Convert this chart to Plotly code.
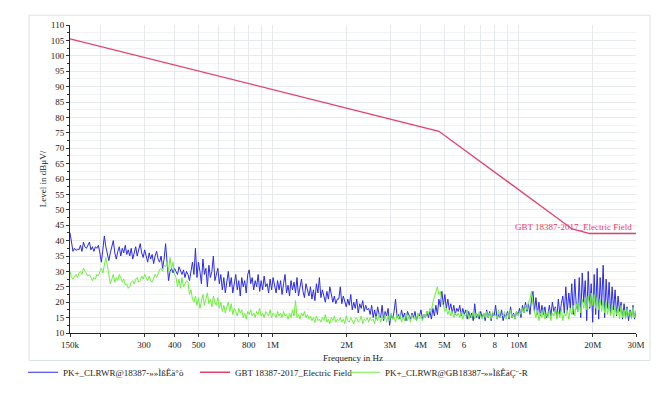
import numpy as np
import plotly.graph_objects as go

# ---- data -------------------------------------------------------------
# receiver sweep: log-spaced from 150 kHz to 30 MHz (one level per step)
SWEEP_START_HZ = 150e3
SWEEP_STOP_HZ = 30e6

blue_levels = [
    42.5, 40, 36.5, 37.5, 36.8, 37.2, 37, 38.5, 36.5, 39.5, 38, 37.5, 38.5, 39.5, 37, 38, 36.5, 38, 37.5, 38.5,
    36, 33, 37, 41.5, 38, 35, 33.5, 36, 38, 40, 36, 34, 36.5, 38, 35, 37.5, 36, 38.5, 35.5, 37,
    35, 37.5, 34, 36, 38, 35, 37, 39, 36, 34.5, 37, 35, 33, 36, 34, 35.5, 32.5, 35, 36.5, 34,
    33, 35, 31, 34, 39, 33, 27, 30, 31, 29.5, 31, 30, 29, 31.5, 30, 29, 30.5, 28, 30, 29,
    27, 31, 33, 29, 37.5, 28, 33, 30, 26, 34, 29, 31, 25, 32, 28, 30, 35, 27, 29, 31,
    26, 29, 24, 28, 23, 27, 30, 25, 28, 23, 26, 29, 24, 27, 22, 28, 25, 27, 23, 29,
    30.5, 26, 28, 24, 27, 25, 29, 23.5, 27, 24, 28.5, 25, 26, 23, 27.5, 24, 28, 25.5, 23, 27,
    24, 27, 22.5, 26, 29, 23, 25.5, 22, 27, 24, 26.5, 23, 28, 22, 25, 27.5, 23.5, 21.5, 26, 24,
    22, 25, 21, 24, 20.5, 26, 23, 28, 21.5, 24, 22, 20, 23.5, 21, 25, 22.5, 20, 22, 19.5, 21,
    21, 25, 19.5, 22, 20, 18.5, 21, 19, 22.5, 17.5, 20, 18, 21, 16.5, 19.5, 18, 20.5, 17, 19, 17.5,
    18, 16, 19, 15, 17.5, 14.5, 18.5, 16, 15, 19, 14, 17, 15.5, 18, 12.5, 16, 14.5, 17, 21, 15,
    16, 14.5, 17.5, 15, 16.5, 14, 17, 15.5, 14.5, 16.5, 15, 17, 14, 16, 15.5, 17.5, 14.5, 16, 15, 17,
    15, 17, 14.5, 18, 15.5, 19, 16, 21, 18.5, 23.5, 19, 22.5, 18, 21, 17.5, 19.5, 16.5, 19, 16, 18,
    17, 19, 15.5, 18, 16, 17.5, 14.5, 17, 15, 16.5, 14, 19.5, 15, 16, 14.5, 17, 15, 16.5, 14, 17.5,
    15, 17, 14, 16.5, 15.5, 19, 14.5, 16, 15, 17.5, 14, 16, 15.5, 17, 14.5, 18.5, 15, 16.5, 14.5, 17,
    16, 18, 15, 19, 16.5, 20, 17, 19.5, 16, 21, 23.5, 17, 21.5, 16, 20, 15.5, 19, 16, 18.5, 15,
    16, 19, 15.5, 20, 17, 18.5, 15, 21, 16, 19.5, 22, 16.5, 25, 17, 23, 18, 26, 16, 27.5, 19,
    17, 28, 15, 29.5, 20, 27, 14, 30, 18, 26, 13.5, 29, 16, 31, 14.5, 28, 19, 32, 15, 27.5,
    18, 26.5, 16, 25, 17.5, 24, 15.5, 22, 17, 20, 14.5, 19.5, 15, 18.5, 14, 17.5, 15, 19, 14.5, 17,
]

green_levels = [
    30, 28, 27.5, 28.5, 29, 28, 29.5, 30, 29, 31, 30, 29, 28.5, 29, 28, 27, 28, 27.5, 29, 28.5,
    30, 31, 29.5, 31.5, 34.5, 32, 29, 26, 27.5, 29, 26.5, 28, 27, 29, 28, 26.5, 27.5, 25.5, 26, 24.5,
    25, 26.5, 27, 26, 27.5, 28, 26.5, 27, 28.5, 27.5, 29, 28, 27, 28.5, 27, 26.5, 28, 29, 28, 29.5,
    30.5, 31, 30, 32, 31.5, 33, 30, 34.5, 31, 33, 29, 28, 25, 27.5, 24.5, 28, 25, 26, 27, 26.5,
    22.5, 24, 21, 20, 22, 19, 21.5, 18, 20, 22.5, 19, 21, 23, 19.5, 21, 18.5, 22, 20, 19, 21.5,
    18, 20, 17, 19, 16.5, 18.5, 20, 17, 19.5, 16, 18, 17, 15.5, 18, 16.5, 17.5, 15, 16.5, 14.5, 17,
    16, 17.5, 15.5, 16.5, 15, 17, 16, 18, 15.5, 16.5, 15, 17, 16, 15.5, 17.5, 15, 16.5, 16, 15, 17,
    15.5, 16.5, 15, 17, 15.5, 16, 14.5, 16.5, 15, 17.5, 15.5, 20.5, 15, 16, 14.5, 16.5, 15.5, 17, 15, 16,
    14.5, 15.5, 14, 15, 13.5, 15.5, 14, 14.5, 13.5, 15, 14, 16, 13.5, 14.5, 13, 15, 14, 15.5, 13.5, 14.5,
    14, 15, 13.5, 14.5, 13, 15.5, 14, 13.5, 15, 14, 13, 14.5, 15, 13.5, 14, 15.5, 13, 14.5, 14, 15,
    13.5, 15, 14, 14.5, 13, 15.5, 14, 16, 13.5, 15, 14.5, 16, 13.5, 15.5, 14, 16.5, 14.5, 15, 13.5, 16,
    14.5, 16, 13.5, 15, 14, 16.5, 14, 15.5, 13.5, 16, 14.5, 15, 14, 16.5, 14.5, 15.5, 14, 16, 15, 17,
    16, 18, 17, 20, 21.5, 23, 25, 22.5, 23.5, 20, 19, 17, 18, 16, 17.5, 15.5, 17, 15, 16.5, 15.5,
    16.5, 15, 17, 14.5, 16, 15.5, 17.5, 14.5, 16, 15, 17, 14.5, 16.5, 15, 17, 15.5, 14.5, 16.5, 15, 17,
    15, 16.5, 14.5, 17, 15.5, 16, 14.5, 17.5, 15, 16, 15.5, 17, 14.5, 16.5, 15, 17.5, 15, 16, 14.5, 17,
    15.5, 17, 16, 18, 16.5, 19, 17.5, 20, 21, 23.5, 19, 17, 15, 17.5, 14, 16.5, 15, 18, 14.5, 16,
    15, 17.5, 14, 16.5, 15.5, 18, 14.5, 17, 15, 18, 14, 16.5, 15.5, 17.5, 14.5, 18, 16, 19, 15.5, 19.5,
    17, 20, 16.5, 21, 18, 21.5, 17.5, 22, 18.5, 23, 19, 22.5, 18, 21.5, 17.5, 21, 17, 20.5, 16.5, 20,
    16, 19.5, 15.5, 19, 15, 18.5, 16, 18, 14.5, 19, 15, 17.5, 14.5, 18, 15.5, 17, 14.5, 18.5, 15, 17.5,
]

limit_freq_hz = [150e3, 4.74e6, 16.5e6, 19.5e6, 30e6]
limit_level = [105.5, 75.5, 43.8, 42.3, 42.3]

x_tick_vals = [150e3, 200e3, 300e3, 400e3, 500e3, 600e3, 700e3, 800e3, 900e3,
               1e6, 2e6, 3e6, 4e6, 5e6, 6e6, 7e6, 8e6, 9e6, 10e6, 20e6, 30e6]
x_tick_text = ["150k", "", "300", "400", "500", "", "", "800", "", "1M",
               "2M", "3M", "4M", "5M", "6", "", "8", "", "10M", "20M", "30M"]
y_tick_vals = list(range(10, 111, 5))

name_blue = "PK+_CLRWR@18387-»»ÌßÊä°ò"
name_limit = "GBT 18387-2017_Electric Field"
name_green = "PK+_CLRWR@GB18387-»»ÌßÊäÇ\u00a8-R"

# ---- figure -----------------------------------------------------------
freq_blue = np.geomspace(SWEEP_START_HZ, SWEEP_STOP_HZ, len(blue_levels))
freq_green = np.geomspace(SWEEP_START_HZ, SWEEP_STOP_HZ, len(green_levels))

BLUE = "#2b2be8"
RED = "#e5406a"
GREEN = "#6cf03c"
FONT = "Liberation Serif"

fig = go.Figure()
fig.add_trace(go.Scatter(x=freq_blue, y=blue_levels, mode="lines", name=name_blue,
                         line=dict(color=BLUE, width=1), legend="legend"))
fig.add_trace(go.Scatter(x=limit_freq_hz, y=limit_level, mode="lines", name=name_limit,
                         line=dict(color=RED, width=1.3), legend="legend2"))
fig.add_trace(go.Scatter(x=freq_green, y=green_levels, mode="lines", name=name_green,
                         line=dict(color=GREEN, width=1), legend="legend3"))

L, R, T, B = 70, 34, 25, 60
W, H = 670, 399
pw, ph = W - L - R, H - T - B


def px_x(xp):
    return (xp - L) / pw


def px_y(yp):
    return (H - B - yp) / ph


legend_common = dict(orientation="h", yanchor="middle", xanchor="left",
                     font=dict(family=FONT, size=9, color="#222"),
                     bgcolor="rgba(0,0,0,0)", itemwidth=30, tracegroupgap=0)

fig.update_layout(
    width=W, height=H,
    margin=dict(l=L, r=R, t=T, b=B),
    paper_bgcolor="white", plot_bgcolor="white",
    font=dict(family=FONT, size=9, color="#222"),
    showlegend=True,
    legend=dict(x=px_x(23), y=px_y(379), **legend_common),
    legend2=dict(x=px_x(195), y=px_y(379), **legend_common),
    legend3=dict(x=px_x(345), y=px_y(379), **legend_common),
    xaxis=dict(type="log", range=[np.log10(SWEEP_START_HZ), np.log10(SWEEP_STOP_HZ)],
               tickvals=x_tick_vals, ticktext=x_tick_text, ticks="outside", ticklen=3,
               tickcolor="#333", showline=True, linecolor="#222", linewidth=1,
               showgrid=True, gridcolor="#e6eaee", gridwidth=1, zeroline=False,
               tickfont=dict(family=FONT, size=9, color="#222"),
               title=dict(text="Frequency in Hz", font=dict(family=FONT, size=9, color="#222"),
                          standoff=5)),
    yaxis=dict(range=[10, 110], tickvals=y_tick_vals, ticks="outside", ticklen=3,
               tickcolor="#333", showline=True, linecolor="#222", linewidth=1,
               showgrid=True, gridcolor="#e6eaee", gridwidth=1, zeroline=False,
               minor=dict(dtick=2.5, ticks="outside", ticklen=2, tickcolor="#333",
                          showgrid=True, gridcolor="#f1f3f5"),
               tickfont=dict(family=FONT, size=9, color="#222"),
               title=dict(text="Level in dBμV/", font=dict(family=FONT, size=9, color="#222"),
                          standoff=2)),
)

# light frame around the chart area
fig.add_shape(type="rect", xref="paper", yref="paper",
              x0=px_x(29), x1=px_x(650), y0=px_y(367), y1=px_y(15),
              line=dict(color="#dbe2e5", width=1), fillcolor="rgba(0,0,0,0)", layer="below")

# limit line label
fig.add_annotation(x=np.log10(limit_freq_hz[-1]), y=limit_level[-1], xref="x", yref="y",
                   text=name_limit, showarrow=False, xanchor="right", yanchor="bottom",
                   xshift=-2, yshift=0, font=dict(family=FONT, size=9, color=RED))

fig.write_html("out.html", config={"displayModeBar": False},
               post_script="document.body.style.margin='0';")
